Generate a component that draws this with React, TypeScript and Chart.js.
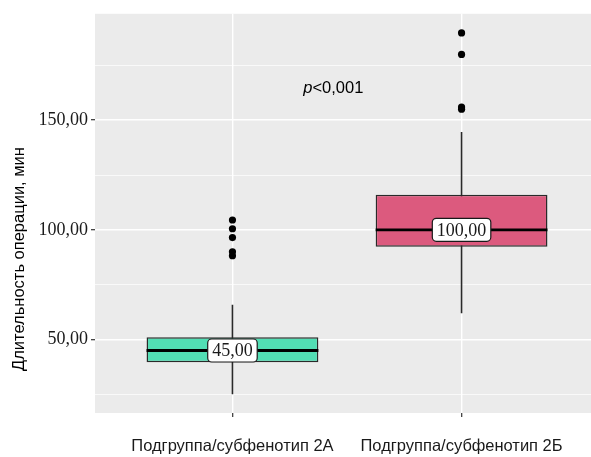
import React, { useEffect, useRef } from 'react';
import { Chart, registerables } from 'chart.js';

Chart.register(...registerables);

const categories = ['Подгруппа/субфенотип 2А', 'Подгруппа/субфенотип 2Б'];
const categoryPositions = [1, 2];
const whiskerLow = [25, 62];
const q1 = [39.6, 92.3];
const median = [45, 100];
const q3 = [51, 116];
const whiskerHigh = [65.8, 144.6];
const outliersA = [104.5, 100.5, 96.5, 90, 88.2];
const outliersB = [189.8, 180, 156, 155];
const outliers = [outliersA, outliersB];
const medianLabels = ['45,00', '100,00'];
const boxColors = ['#52DEB4', '#DC5A7E'];
const yTicks = [25, 50, 75, 100, 125, 150, 175];
const yLabeled = [50, 100, 150];
const yAxisTitle = 'Длительность операции, мин';
const pValueParts = ['p', '<0,001'];
const pValuePos = { x: 1.44, y: 164.5 };
const BOX_WIDTH = 0.75;

const fmt = (v: number) => v.toFixed(2).replace('.', ',');

const extrasPlugin = {
  id: 'extras',
  beforeDraw(chart: any) {
    const { ctx, chartArea } = chart;
    ctx.save();
    ctx.fillStyle = '#EBEBEB';
    ctx.fillRect(chartArea.left, chartArea.top, chartArea.right - chartArea.left, chartArea.bottom - chartArea.top);
    ctx.restore();
  },
  afterDraw(chart: any) {
    const { ctx } = chart;
    const x = chart.scales.x;
    const y = chart.scales.y;
    ctx.save();
    ctx.font = '18px "Liberation Serif"';
    medianLabels.forEach((t, i) => {
      const px = x.getPixelForValue(categoryPositions[i]);
      const py = y.getPixelForValue(median[i]);
      const w = ctx.measureText(t).width + 9;
      const h = 23;
      ctx.beginPath();
      ctx.roundRect(px - w / 2, py - h / 2, w, h, 4);
      ctx.fillStyle = '#ffffff';
      ctx.fill();
      ctx.lineWidth = 1.2;
      ctx.strokeStyle = '#1a1a1a';
      ctx.stroke();
      ctx.fillStyle = '#1a1a1a';
      ctx.textAlign = 'center';
      ctx.textBaseline = 'middle';
      ctx.fillText(t, px, py + 1);
    });
    const italicFont = 'italic 16.5px "Liberation Sans"';
    const normalFont = '16.5px "Liberation Sans"';
    ctx.font = italicFont;
    const w1 = ctx.measureText(pValueParts[0]).width;
    ctx.font = normalFont;
    const w2 = ctx.measureText(pValueParts[1]).width;
    const cx = x.getPixelForValue(pValuePos.x);
    const cy = y.getPixelForValue(pValuePos.y);
    const sx = cx - (w1 + w2) / 2;
    ctx.textAlign = 'left';
    ctx.textBaseline = 'middle';
    ctx.fillStyle = '#000000';
    ctx.font = italicFont;
    ctx.fillText(pValueParts[0], sx, cy);
    ctx.font = normalFont;
    ctx.fillText(pValueParts[1], sx + w1, cy);
    ctx.translate(19, 259);
    ctx.rotate(-Math.PI / 2);
    ctx.textAlign = 'center';
    ctx.font = '16.5px "Liberation Sans"';
    ctx.fillText(yAxisTitle, 0, 0);
    ctx.restore();
  },
};

export default function App() {
  const ref = useRef<HTMLCanvasElement | null>(null);
  useEffect(() => {
    if (!ref.current) return;
    const datasets: any[] = [];
    categoryPositions.forEach((c, i) => {
      datasets.push({
        type: 'line',
        data: [{ x: c, y: whiskerLow[i] }, { x: c, y: whiskerHigh[i] }],
        borderColor: '#2a2a2a',
        borderWidth: 1.6,
        pointRadius: 0,
        order: 5,
      });
    });
    datasets.push({
      type: 'bar',
      data: categoryPositions.map((c, i) => ({ x: c, y: [q1[i], q3[i]] })),
      backgroundColor: boxColors,
      borderColor: '#2a2a2a',
      borderWidth: 1.5,
      borderSkipped: false,
      categoryPercentage: 1,
      barPercentage: BOX_WIDTH,
      order: 4,
    });
    categoryPositions.forEach((c, i) => {
      datasets.push({
        type: 'line',
        data: [
          { x: c - BOX_WIDTH / 2, y: median[i] },
          { x: c + BOX_WIDTH / 2, y: median[i] },
        ],
        borderColor: '#000000',
        borderWidth: 2.8,
        pointRadius: 0,
        order: 3,
      });
    });
    categoryPositions.forEach((c, i) => {
      datasets.push({
        type: 'scatter',
        data: outliers[i].map((v) => ({ x: c, y: v })),
        backgroundColor: '#000000',
        borderColor: '#000000',
        pointRadius: 3.6,
        borderWidth: 0,
        order: 2,
      });
    });

    const chart = new Chart(ref.current, {
      type: 'bar',
      data: { datasets },
      plugins: [extrasPlugin],
      options: {
        animation: false,
        responsive: false,
        maintainAspectRatio: false,
        layout: { autoPadding: false, padding: { top: 12, left: 0, right: 0, bottom: 0 } },
        plugins: { legend: { display: false }, tooltip: { enabled: false } },
        scales: {
          x: {
            type: 'linear',
            min: 0.4,
            max: 2.565,
            offset: false,
            afterBuildTicks: (axis: any) => {
              axis.ticks = categoryPositions.map((v) => ({ value: v }));
            },
            afterFit: (axis: any) => {
              axis.height = 44;
            },
            border: { display: false },
            grid: {
              offset: false,
              color: '#ffffff',
              lineWidth: 1.4,
              drawTicks: true,
              tickLength: 4,
              tickColor: '#333333',
              tickWidth: 1.2,
            },
            ticks: {
              autoSkip: false,
              maxRotation: 0,
              padding: 20,
              color: '#1a1a1a',
              font: { family: '"Liberation Sans"', size: 16.5 },
              callback: (v: any) => {
                const idx = categoryPositions.indexOf(Number(v));
                return idx >= 0 ? categories[idx] : '';
              },
            },
          },
          y: {
            type: 'linear',
            min: 16.5,
            max: 198.5,
            afterBuildTicks: (axis: any) => {
              axis.ticks = yTicks.map((v) => ({ value: v }));
            },
            afterFit: (axis: any) => {
              axis.width = 95;
            },
            border: { display: false },
            grid: {
              color: '#ffffff',
              lineWidth: (ctx: any) => (yLabeled.includes(ctx.tick?.value) ? 1.4 : 0.7),
              drawTicks: true,
              tickLength: 4,
              tickWidth: 1.2,
              tickColor: (ctx: any) => (yLabeled.includes(ctx.tick?.value) ? '#333333' : 'rgba(0,0,0,0)'),
            },
            ticks: {
              autoSkip: false,
              padding: 3,
              color: '#1a1a1a',
              font: { family: '"Liberation Serif"', size: 18 },
              callback: (v: any) => (yLabeled.includes(Number(v)) ? fmt(Number(v)) : ''),
            },
          },
        },
      },
    });
    return () => chart.destroy();
  }, []);

  return (
    <div style={{ position: 'absolute', left: 0, top: 0, width: 591, height: 457, overflow: 'hidden', background: '#fff' }}>
      <canvas ref={ref} width={591} height={457} style={{ display: 'block' }} />
    </div>
  );
}
